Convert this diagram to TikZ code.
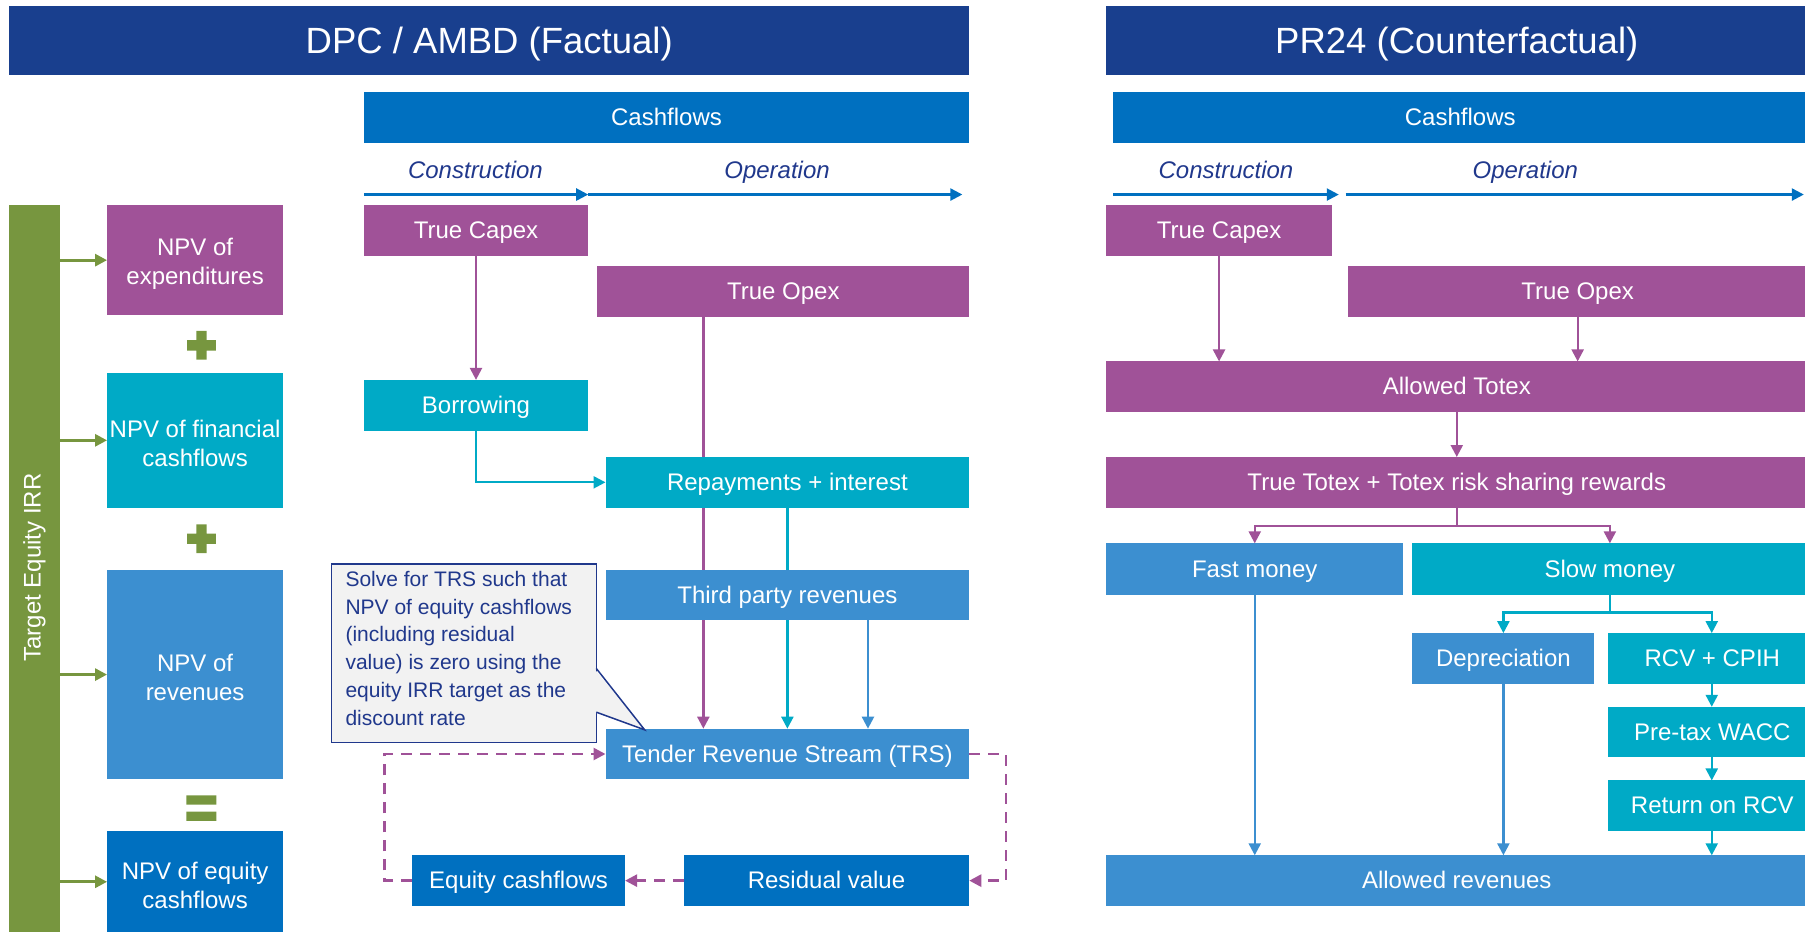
\documentclass[tikz,border=0pt]{standalone}
\usepackage{fontspec}
\setmainfont{Liberation Sans}
\usetikzlibrary{arrows.meta,backgrounds,calc}
\definecolor{ctitle}{RGB}{25,63,142}
\definecolor{ccash}{RGB}{0,112,192}
\definecolor{cpur}{RGB}{160,82,152}
\definecolor{cteal}{RGB}{0,170,198}
\definecolor{clb}{RGB}{60,143,208}
\definecolor{cdb}{RGB}{0,112,192}
\definecolor{cgreen}{RGB}{119,150,63}
\definecolor{cnavy}{RGB}{32,56,140}
\definecolor{cfillc}{RGB}{242,242,242}
% single-line box: caps centred
\newcommand{\mkbox}[7]{\node[#6,text height=17.2pt,text depth=1pt,minimum width={(#4-#2)*1.1512pt},minimum height={(#5-#3)*1.1512pt}] (#1) at ({(#2+#4)/2},{(#3+#5)/2}) {#7};}
% two-line box: box node plus a text node
\newcommand{\mkboxm}[7]{\node[#6,minimum width={(#4-#2)*1.1512pt},minimum height={(#5-#3)*1.1512pt}] (#1) at ({(#2+#4)/2},{(#3+#5)/2}) {};
  \node[bx] (#1-t) at ([yshift=-3.2pt]#1.center) {#7};}
\begin{document}
\begin{tikzpicture}[x=1.1512pt,y=-1.1512pt,
  bx/.style={inner sep=0pt,outer sep=0pt,text=white,align=center,font=\fontsize{24}{29}\selectfont},
  titlebox/.style={bx,fill=ctitle,font=\fontsize{36.5}{40}\selectfont},
  cash/.style={bx,fill=ccash},
  pbox/.style={bx,fill=cpur},
  tbox/.style={bx,fill=cteal},
  lbox/.style={bx,fill=clb},
  dbox/.style={bx,fill=cdb},
  gbox/.style={bx,fill=cgreen},
  phase/.style={text=cnavy,inner sep=0pt,text height=17.2pt,text depth=0pt,font=\fontsize{24}{29}\selectfont\itshape},
  arr/.style={line width=2.3pt,-{Triangle[length=12pt,width=12pt]}},
  parr/.style={arr,draw=cpur},
  tarr/.style={arr,draw=cteal},
  larr/.style={arr,draw=clb},
  axarr/.style={arr,draw=ccash},
  garr/.style={arr,draw=cgreen,line width=2.8pt},
  darr/.style={arr,draw=cpur,line width=2.6pt,dash pattern=on 11pt off 8pt},
]
\useasboundingbox (0,0) rectangle (1568,809);

% ---------- titles ----------
\node[titlebox,text height=26.1pt,text depth=0pt,minimum width={834*1.1512pt},minimum height={60*1.1512pt}] (tl) at (425,35) {DPC / AMBD (Factual)};
\node[titlebox,text height=26.1pt,text depth=0pt,minimum width={609*1.1512pt},minimum height={60*1.1512pt}] (tr) at (1265.5,35) {PR24 (Counterfactual)};

% ---------- left: NPV column ----------
\mkboxm{gbar}{8}{178}{52}{812}{gbox}{}
\node[rotate=90,text=white,inner sep=0pt,font=\fontsize{24}{29}\selectfont] (girr) at (30,493) {Target Equity IRR};
\mkboxm{npva}{93}{178}{246}{274}{pbox}{NPV of\\expenditures}
\mkboxm{npvb}{93}{324}{246}{441}{tbox}{NPV of financial\\cashflows}
\mkboxm{npvc}{93}{495}{246}{677}{lbox}{NPV of\\revenues}
\mkboxm{npvd}{93}{722}{246}{810}{dbox}{NPV of equity\\cashflows}
\fill[cgreen] (162.5,295.5) rectangle (187.5,304.5) (170.5,287.5) rectangle (179.5,312.5);
\fill[cgreen] (162.5,463.5) rectangle (187.5,472.5) (170.5,455.5) rectangle (179.5,480.5);
\fill[cgreen] (162,691) rectangle (188,699) (162,705) rectangle (188,713);

% ---------- left: cashflows ----------
\mkbox{lcash}{316}{80}{842}{124}{cash}{Cashflows}
\node[phase] (lcon) at (413,148) {Construction};
\node[phase] (lop) at (675,148) {Operation};
\coordinate (la0) at (316,169);
\coordinate (la1) at (511,169);
\coordinate (la2) at (836,169);
\mkbox{tcap}{316}{178}{511}{222}{pbox}{True Capex}
\mkbox{topex}{519}{231}{842}{275}{pbox}{True Opex}
\mkbox{borrow}{316}{330}{511}{374}{tbox}{Borrowing}
\mkbox{repay}{526}{397}{842}{441}{tbox}{Repayments + interest}
\mkbox{third}{526}{495}{842}{539}{lbox}{Third party revenues}
\mkbox{trs}{526}{633}{842}{677}{lbox}{Tender Revenue Stream (TRS)}
\mkbox{eqcf}{358}{743}{543}{787}{dbox}{Equity cashflows}
\mkbox{resid}{594}{743}{842}{787}{dbox}{Residual value}
\coordinate (x611) at (611,0);
\coordinate (x754) at (754,0);
\coordinate (x874) at (874,0);
\coordinate (x334) at (334,0);

% ---------- callout ----------
\node[minimum width={230*1.1512pt},minimum height={155*1.1512pt},inner sep=0pt,outer sep=0pt,fill=cfillc,draw=cnavy,line width=1.5pt] (cbox) at (403,567.5) {};
\coordinate (ctip) at (560,634);
\fill[cfillc] ($(cbox.north east)!0.585!(cbox.south east)+(-2,0)$) -- (ctip) -- ($(cbox.north east)!0.83!(cbox.south east)+(-2,0)$) -- cycle;
\draw[cnavy,line width=1.5pt,line join=miter] ($(cbox.north east)!0.585!(cbox.south east)$) -- (ctip) -- ($(cbox.north east)!0.83!(cbox.south east)$);
\node[anchor=north west,inner sep=0pt,align=left,text=cnavy,font=\fontsize{21}{27.8}\selectfont] (ctext) at ($(cbox.north west)+(12,6)$)
 {Solve for TRS such that\\NPV of equity cashflows\\(including residual\\value) is zero using the\\equity IRR target as the\\discount rate};

% ---------- right side ----------
\mkbox{rcash}{967}{80}{1570}{124}{cash}{Cashflows}
\node[phase] (rcon) at (1065,148) {Construction};
\node[phase] (rop) at (1325,148) {Operation};
\coordinate (ra0) at (967,169);
\coordinate (ra1) at (1163,169);
\coordinate (ra2) at (1169,169);
\coordinate (ra3) at (1567,169);
\mkbox{rcap}{961}{178}{1157}{222}{pbox}{True Capex}
\mkbox{ropex}{1171}{231}{1570}{275}{pbox}{True Opex}
\mkbox{atot}{961}{314}{1570}{358}{pbox}{Allowed Totex}
\mkbox{ttot}{961}{397}{1570}{441}{pbox}{True Totex + Totex risk sharing rewards}
\mkbox{fast}{961}{472}{1219}{517}{lbox}{Fast money}
\mkbox{slow}{1227}{472}{1570}{517}{tbox}{Slow money}
\mkbox{dep}{1227}{550}{1385}{594}{lbox}{Depreciation}
\mkbox{rcv}{1397}{550}{1578}{594}{tbox}{RCV + CPIH}
\mkbox{wacc}{1397}{614}{1578}{658}{tbox}{Pre-tax WACC}
\mkbox{ret}{1397}{678}{1578}{722}{tbox}{Return on RCV}
\mkbox{arev}{961}{743}{1570}{787}{lbox}{Allowed revenues}
\coordinate (y457) at (0,457);
\coordinate (y532) at (0,532);
\coordinate (x1487) at (1487,0);

% ---------- connectors ----------
\begin{pgfonlayer}{background}
\draw[axarr] (la0) -- (la1);
\draw[axarr] (la1) -- (la2);
\draw[axarr] (ra0) -- (ra1);
\draw[axarr] (ra2) -- (ra3);
\draw[garr] (npva.west -| gbar.east) -- (npva.west);
\draw[garr] (npvb.west -| gbar.east) -- (npvb.west);
\draw[garr] (npvc.west -| gbar.east) -- (npvc.west);
\draw[garr] (npvd.west -| gbar.east) -- (npvd.west);
\draw[parr] (tcap.south) -- (borrow.north);
\draw[tarr] (borrow.south) |- (repay.west);
\draw[parr] (topex.south -| x611) -- (trs.north -| x611);
\draw[tarr] (repay.south) -- (trs.north);
\draw[larr] (third.south -| x754) -- (trs.north -| x754);
\draw[darr] (trs.east) -- (trs.east -| x874) |- (resid.east);
\draw[darr] (resid.west) -- (eqcf.east);
\draw[darr] (eqcf.west) -- (eqcf.west -| x334) |- (trs.west);
\draw[parr] (rcap.south) -- (atot.north -| rcap.south);
\draw[parr] (ropex.south) -- (atot.north -| ropex.south);
\draw[parr] (atot.south) -- (ttot.north);
\draw[parr] (ttot.south) -- (ttot.south |- y457) -| (fast.north);
\draw[parr] (ttot.south) -- (ttot.south |- y457) -| (slow.north);
\draw[tarr] (slow.south) -- (slow.south |- y532) -| (dep.north);
\draw[tarr] (slow.south) -- (slow.south |- y532) -| (x1487 |- rcv.north);
\draw[tarr] (rcv.south -| x1487) -- (wacc.north -| x1487);
\draw[tarr] (wacc.south -| x1487) -- (ret.north -| x1487);
\draw[tarr] (ret.south -| x1487) -- (arev.north -| x1487);
\draw[larr] (fast.south) -- (arev.north -| fast.south);
\draw[larr] (dep.south) -- (arev.north -| dep.south);
\end{pgfonlayer}
\end{tikzpicture}
\end{document}
